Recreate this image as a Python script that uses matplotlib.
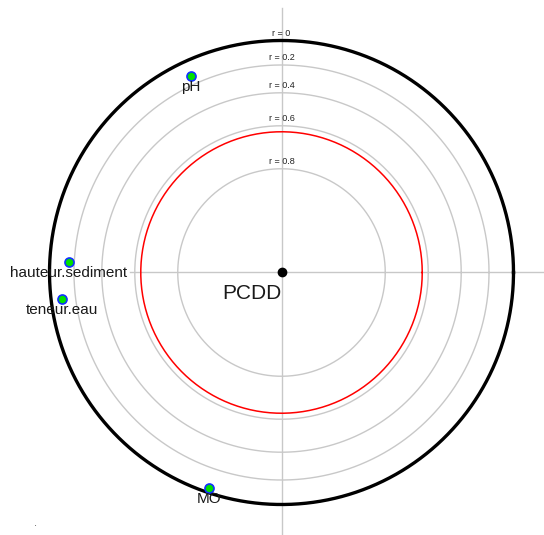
import matplotlib
matplotlib.use('Agg')
import matplotlib.pyplot as plt
import numpy as np

# correlation with the central variable and angle (degrees) of each variable
target = "PCDD"
variables = ["pH", "hauteur.sediment", "teneur.eau", "MO"]
r_values = [0.129, 0.159, 0.089, 0.037]
angles = [114.8, 177.1, 187.0, 251.4]
grid_r = [0, 0.2, 0.4, 0.6, 0.8]
r_crit = 0.632


def radius(r):
    return np.sqrt(1 - np.abs(r))


plt.rcParams['font.family'] = ['Liberation Sans', 'DejaVu Sans']
fig = plt.figure(figsize=(5.44, 5.35), dpi=100)
ax = fig.add_axes([0, 0, 1, 1])
R = 232.0
ax.set_xlim(-281.5 / R, (544 - 281.5) / R)
ax.set_ylim(-(535 - 272.5) / R, 272.5 / R)
ax.set_aspect('equal')
ax.axis('off')

t = np.linspace(0, 2 * np.pi, 400)

# axes lines
ax.plot([-0.655, 2], [0, 0], color='#c8c8c8', lw=1, zorder=1)
ax.plot([0, 0], [-2, 1.14], color='#c8c8c8', lw=1, zorder=1)

# grid circles
for g in grid_r:
    rad = radius(g)
    if g == 0:
        ax.plot(rad * np.cos(t), rad * np.sin(t), color='black', lw=2.4, zorder=2)
    else:
        ax.plot(rad * np.cos(t), rad * np.sin(t), color='#c8c8c8', lw=1, zorder=1)
    ax.text(0, rad + 2.5 / R, "r = %g" % g, ha='center', va='bottom',
            fontsize=6.5, color='#222222', zorder=3)

# significance circle
rc = radius(r_crit)
ax.plot(rc * np.cos(t), rc * np.sin(t), color='red', lw=1.1, zorder=2)

# central variable
ax.plot(0, 0, 'o', color='black', markersize=6, zorder=4)
ax.text(0, -12 / R, target, ha='right', va='top', fontsize=15, color='#1a1a1a')

# other variables
for name, r, a in zip(variables, r_values, angles):
    rad = radius(r)
    x = rad * np.cos(np.radians(a))
    y = rad * np.sin(np.radians(a))
    ax.plot(x, y, 'o', markerfacecolor='#00e000', markeredgecolor='#1030ff',
            markeredgewidth=1.2, markersize=6.5, zorder=4)
    ax.text(x, y - 11 / R, name, ha='center', va='center', fontsize=11,
            color='#1a1a1a', zorder=5)

ax.text(-246 / R, -250 / R, ".", ha='center', va='center', fontsize=8, color='#555555')

fig.savefig('out.png', dpi=100)
plt.close()
